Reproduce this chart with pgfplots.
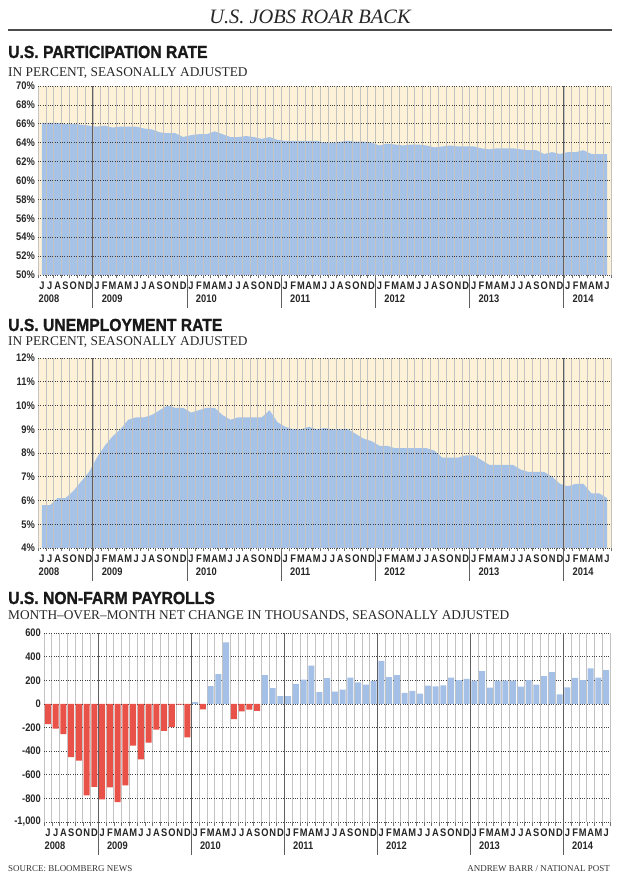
\documentclass[border=0pt]{standalone}
\usepackage{fontspec}
\setmainfont{Liberation Serif}
\newfontfamily\headfont{Liberation Sans}[FakeStretch=0.9, BoldFeatures={FakeBold=1.2}]
\newfontfamily\tickfont{Liberation Sans}[FakeStretch=0.85]
\usepackage{pgfplots}
\usepackage{pgfplotstable}
\pgfplotsset{compat=1.18}

\definecolor{cream}{RGB}{253,241,216}
\definecolor{areablue}{RGB}{166,194,230}
\definecolor{barblue}{RGB}{164,192,230}
\definecolor{barred}{RGB}{232,82,72}
\definecolor{gridv}{RGB}{195,195,195}
\definecolor{sepc}{RGB}{95,95,95}

% Participation rate, Jun 2008 (x=0) to Jun 2014 (x=72)
\pgfplotstableread{
x y
0 66.1
1 66.1
2 66.1
3 66.0
4 66.0
5 65.9
6 65.8
7 65.7
8 65.8
9 65.6
10 65.7
11 65.7
12 65.7
13 65.5
14 65.4
15 65.1
16 65.0
17 65.0
18 64.6
19 64.8
20 64.9
21 64.9
22 65.2
23 64.9
24 64.6
25 64.6
26 64.7
27 64.6
28 64.4
29 64.6
30 64.3
31 64.2
32 64.2
33 64.2
34 64.2
35 64.2
36 64.0
37 64.0
38 64.1
39 64.2
40 64.1
41 64.1
42 64.0
43 63.7
44 63.9
45 63.8
46 63.7
47 63.8
48 63.8
49 63.7
50 63.5
51 63.6
52 63.7
53 63.6
54 63.6
55 63.6
56 63.4
57 63.3
58 63.4
59 63.4
60 63.4
61 63.3
62 63.2
63 63.2
64 62.8
65 63.0
66 62.8
67 63.0
68 63.0
69 63.2
70 62.8
71 62.8
72 62.8
}\partdata

% Unemployment rate
\pgfplotstableread{
x y
0 5.8
1 5.8
2 6.1
3 6.1
4 6.4
5 6.8
6 7.2
7 7.8
8 8.3
9 8.7
10 9.0
11 9.4
12 9.5
13 9.5
14 9.6
15 9.8
16 10.0
17 9.9
18 9.9
19 9.7
20 9.8
21 9.9
22 9.9
23 9.6
24 9.4
25 9.5
26 9.5
27 9.5
28 9.5
29 9.8
30 9.3
31 9.1
32 9.0
33 9.0
34 9.1
35 9.0
36 9.05
37 9.0
38 9.0
39 9.0
40 8.8
41 8.6
42 8.5
43 8.3
44 8.3
45 8.2
46 8.2
47 8.2
48 8.2
49 8.2
50 8.1
51 7.8
52 7.8
53 7.8
54 7.9
55 7.9
56 7.7
57 7.5
58 7.5
59 7.5
60 7.5
61 7.3
62 7.2
63 7.2
64 7.2
65 7.0
66 6.7
67 6.6
68 6.7
69 6.7
70 6.3
71 6.3
72 6.1
}\unempdata

% Non-farm payrolls, negative months
\pgfplotstableread{
x y
0 -171
1 -209
2 -257
3 -451
4 -480
5 -774
6 -703
7 -809
8 -706
9 -831
10 -689
11 -354
12 -469
13 -329
14 -217
15 -229
16 -197
17 -6
18 -283
20 -46
24 -129
25 -63
26 -49
27 -60
}\payneg

% Non-farm payrolls, positive months
\pgfplotstableread{
x y
19 14
21 151
22 251
23 520
28 243
29 134
30 66
31 66
32 169
33 206
34 323
35 100
36 217
37 103
38 120
39 223
40 183
41 163
42 194
43 363
44 226
45 243
46 94
47 109
48 86
49 154
50 149
51 157
52 223
53 200
54 211
55 197
56 277
57 137
58 197
59 197
60 197
61 146
62 200
63 163
64 234
65 269
66 80
67 140
68 220
69 200
70 300
71 223
72 286
}\paypos

\pgfplotsset{
  panel/.style={
    scale only axis,
    xmin=-0.5, xmax=72.5,
    axis line style={draw=none},
    xtick={0,...,72},
    xticklabels={J,J,A,S,O,N,D,
      J,F,M,A,M,J,J,A,S,O,N,D,
      J,F,M,A,M,J,J,A,S,O,N,D,
      J,F,M,A,M,J,J,A,S,O,N,D,
      J,F,M,A,M,J,J,A,S,O,N,D,
      J,F,M,A,M,J,J,A,S,O,N,D,
      J,F,M,A,M,J},
    minor xtick={-0.5,0.5,...,72.5},
    xtick pos=left, ytick pos=left,
    tick align=outside,
    major tick length=0pt,
    minor tick length=3.5bp,
    xtick style={black!55, line width=0.5bp},
    ytick style={draw=none},
    ymajorgrids,
    y grid style={dotted, black!75, line width=0.7bp},
    xminorgrids,
    minor x grid style={gridv, line width=0.6bp},
    ticklabel style={font=\tickfont\bfseries\fontsize{11}{11}\selectfont, text=black!85},
    xticklabel style={anchor=base, inner sep=0pt, yshift=-15bp},
    yticklabel style={anchor=east, inner sep=0pt, xshift=-3bp},
    clip mode=individual,
  },
}
\tikzset{
  yearlab/.style={anchor=base west, inner sep=0pt, font=\tickfont\bfseries\fontsize{11}{11}\selectfont, text=black!85},
  sepline/.style={draw=sepc, line width=0.9bp},
  headst/.style={anchor=base west, inner sep=0pt, font=\headfont\bfseries\fontsize{17.5}{17.5}\selectfont, text=black!90},
  subst/.style={anchor=base west, inner sep=0pt, font=\fontsize{13.4}{13.4}\selectfont, text=black!85},
}

\begin{document}
\begin{tikzpicture}[x=1bp,y=1bp]
\path[use as bounding box] (0,0) rectangle (620,877);

% Title
\node[anchor=base, inner sep=0pt, font=\fontsize{20.5}{20}\selectfont\itshape, text=black!85] at (310,853) {U.S. JOBS ROAR BACK};
\draw[line width=1.1bp, black!70] (8,847) -- (612,847);

% ---------- Panel 1 ----------
\node[headst] at (8,819) {U.S. PARTICIPATION RATE};
\node[subst] at (8,800) {IN PERCENT, SEASONALLY ADJUSTED};

\begin{axis}[panel,
  at={(38bp,602bp)}, anchor=south west,
  width=573bp, height=189bp,
  ymin=50, ymax=70,
  ytick={50,52,...,70},
  yticklabels={50\%,52\%,54\%,56\%,58\%,60\%,62\%,64\%,66\%,68\%,70\%},
  axis background/.style={fill=cream},
  axis on top,
]
\addplot[fill=areablue, draw=none] table {\partdata} \closedcycle;
\pgfplotsinvokeforeach{6.5,18.5,30.5,42.5,54.5,66.5}{
  \draw[sepline] (axis cs:#1,70) -- ([yshift=-33bp]axis cs:#1,50);
}
\node[yearlab] at ([yshift=-28bp]axis cs:-0.45,50) {2008};
\node[yearlab] at ([yshift=-28bp]axis cs:7.6,50) {2009};
\node[yearlab] at ([yshift=-28bp]axis cs:19.6,50) {2010};
\node[yearlab] at ([yshift=-28bp]axis cs:31.6,50) {2011};
\node[yearlab] at ([yshift=-28bp]axis cs:43.6,50) {2012};
\node[yearlab] at ([yshift=-28bp]axis cs:55.6,50) {2013};
\node[yearlab] at ([yshift=-28bp]axis cs:67.6,50) {2014};
\end{axis}

% ---------- Panel 2 ----------
\node[headst] at (8,546) {U.S. UNEMPLOYMENT RATE};
\node[subst] at (8,531) {IN PERCENT, SEASONALLY ADJUSTED};

\begin{axis}[panel,
  at={(38bp,329bp)}, anchor=south west,
  width=573bp, height=190bp,
  ymin=4, ymax=12,
  ytick={4,5,...,12},
  yticklabels={4\%,5\%,6\%,7\%,8\%,9\%,10\%,11\%,12\%},
  axis background/.style={fill=cream},
  axis on top,
]
\addplot[fill=areablue, draw=none] table {\unempdata} \closedcycle;
\pgfplotsinvokeforeach{6.5,18.5,30.5,42.5,54.5,66.5}{
  \draw[sepline] (axis cs:#1,12) -- ([yshift=-33bp]axis cs:#1,4);
}
\node[yearlab] at ([yshift=-28bp]axis cs:-0.45,4) {2008};
\node[yearlab] at ([yshift=-28bp]axis cs:7.6,4) {2009};
\node[yearlab] at ([yshift=-28bp]axis cs:19.6,4) {2010};
\node[yearlab] at ([yshift=-28bp]axis cs:31.6,4) {2011};
\node[yearlab] at ([yshift=-28bp]axis cs:43.6,4) {2012};
\node[yearlab] at ([yshift=-28bp]axis cs:55.6,4) {2013};
\node[yearlab] at ([yshift=-28bp]axis cs:67.6,4) {2014};
\end{axis}

% ---------- Panel 3 ----------
\node[headst] at (8,273) {U.S. NON-FARM PAYROLLS};
\node[subst] at (8,257) {MONTH–OVER–MONTH NET CHANGE IN THOUSANDS, SEASONALLY ADJUSTED};

\begin{axis}[panel,
  at={(44bp,55bp)}, anchor=south west,
  width=566bp, height=189bp,
  ymin=-1000, ymax=600,
  ytick={-1000,-800,...,600},
  yticklabels={{-1,000},-800,-600,-400,-200,0,200,400,600},
  ybar, bar width=6bp, bar shift=0pt,
]
\addplot[fill=barred, draw=none] table {\payneg};
\addplot[fill=barblue, draw=none] table {\paypos};
\pgfplotsinvokeforeach{6.5,18.5,30.5,42.5,54.5,66.5}{
  \draw[sepline] (axis cs:#1,600) -- ([yshift=-33bp]axis cs:#1,-1000);
}
\node[yearlab] at ([yshift=-28bp]axis cs:-0.45,-1000) {2008};
\node[yearlab] at ([yshift=-28bp]axis cs:7.6,-1000) {2009};
\node[yearlab] at ([yshift=-28bp]axis cs:19.6,-1000) {2010};
\node[yearlab] at ([yshift=-28bp]axis cs:31.6,-1000) {2011};
\node[yearlab] at ([yshift=-28bp]axis cs:43.6,-1000) {2012};
\node[yearlab] at ([yshift=-28bp]axis cs:55.6,-1000) {2013};
\node[yearlab] at ([yshift=-28bp]axis cs:67.6,-1000) {2014};
\end{axis}

% Footer
\node[anchor=base west, inner sep=0pt, font=\fontsize{9}{9}\selectfont, text=black!80] at (8,5) {SOURCE: BLOOMBERG NEWS};
\node[anchor=base east, inner sep=0pt, font=\fontsize{9}{9}\selectfont, text=black!80] at (610,5) {ANDREW BARR / NATIONAL POST};
\end{tikzpicture}
\end{document}
